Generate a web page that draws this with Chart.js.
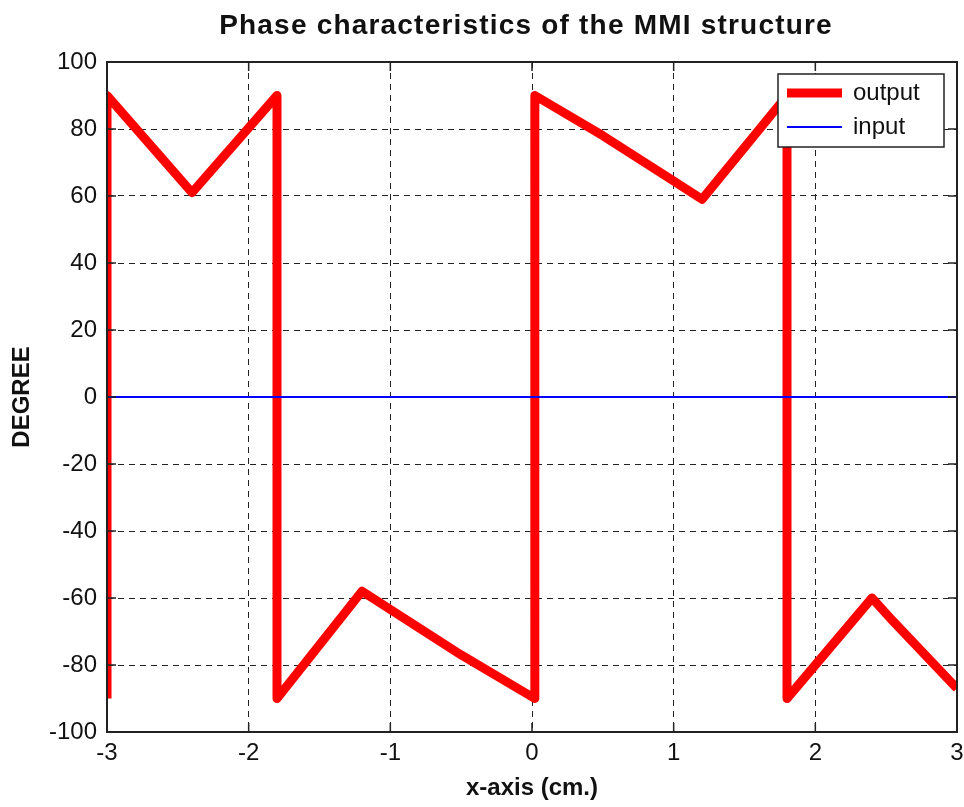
<!DOCTYPE html>
<html lang="en">
<head>
<meta charset="utf-8">
<title>Phase characteristics of the MMI structure</title>
<script src="https://cdn.jsdelivr.net/npm/chart.js@4.4.1/dist/chart.umd.min.js"></script>
<style>
  html, body { margin: 0; padding: 0; background: #fff; }
  canvas { display: block; }
</style>
</head>
<body>
<canvas id="phaseChart" width="964" height="807"></canvas>
<script>
// Output phase (degrees) along the MMI cross-section, jumps included
const outputX = [-3, -3, -2.4, -1.8, -1.8, -1.2, -0.5, 0.02, 0.02, 0.5, 1.0, 1.2, 1.8, 1.8, 2.4, 2.55, 3];
const outputY = [-90, 90, 61, 90, -90, -58, -77, -90, 90, 78, 64.5, 59, 90, -90, -60, -67, -87];

// Input phase stays flat
const inputX = [-3, 3];
const inputY = [0, 0];

const xTicks = [-3, -2, -1, 0, 1, 2, 3];
const yTicks = [-100, -80, -60, -40, -20, 0, 20, 40, 60, 80, 100];

const FONT = '"Liberation Sans", Arial, Helvetica, sans-serif';
const TEXT_COLOR = '#111';
const AXIS_COLOR = '#222';
const GRID_COLOR = '#222';
const TICK_LEN = 9;

const toPoints = (xs, ys) => xs.map((x, i) => ({ x, y: ys[i] }));

// Bold title centred over the plot box
const plotTitle = {
  id: 'plotTitle',
  afterDraw(chart) {
    const { ctx, chartArea: a } = chart;
    ctx.save();
    ctx.font = 'bold 28px ' + FONT;
    if ('letterSpacing' in ctx) ctx.letterSpacing = '1.2px';
    ctx.fillStyle = TEXT_COLOR;
    ctx.textAlign = 'center';
    ctx.textBaseline = 'alphabetic';
    ctx.fillText('Phase characteristics of the MMI structure', (a.left + a.right) / 2 - 6, 34);
    ctx.restore();
  }
};

// Closed axes box with inward tick marks on every side
const frameAndTicks = {
  id: 'frameAndTicks',
  afterDatasetsDraw(chart) {
    const { ctx, chartArea: a, scales: { x, y } } = chart;
    ctx.save();
    ctx.strokeStyle = AXIS_COLOR;
    ctx.lineWidth = 1.5;
    ctx.beginPath();
    x.ticks.forEach(t => {
      const px = x.getPixelForValue(t.value);
      ctx.moveTo(px, a.bottom); ctx.lineTo(px, a.bottom - TICK_LEN);
      ctx.moveTo(px, a.top); ctx.lineTo(px, a.top + TICK_LEN);
    });
    y.ticks.forEach(t => {
      const py = y.getPixelForValue(t.value);
      ctx.moveTo(a.left, py); ctx.lineTo(a.left + TICK_LEN, py);
      ctx.moveTo(a.right, py); ctx.lineTo(a.right - TICK_LEN, py);
    });
    ctx.stroke();
    ctx.lineWidth = 2;
    ctx.strokeRect(a.left, a.top, a.right - a.left, a.bottom - a.top);
    ctx.restore();
  }
};

// Boxed legend in the upper right corner of the plot
const boxLegend = {
  id: 'boxLegend',
  afterDraw(chart) {
    const { ctx, chartArea: a } = chart;
    const w = 166, h = 73;
    const left = a.right - 13 - w, top = a.top + 12;
    ctx.save();
    ctx.fillStyle = '#fff';
    ctx.fillRect(left, top, w, h);
    ctx.strokeStyle = AXIS_COLOR;
    ctx.lineWidth = 1.5;
    ctx.strokeRect(left, top, w, h);
    ctx.font = '24px ' + FONT;
    ctx.textBaseline = 'middle';
    chart.data.datasets.forEach((ds, i) => {
      const cy = top + 19 + i * 34;
      ctx.strokeStyle = ds.borderColor;
      ctx.lineWidth = ds.borderWidth;
      ctx.beginPath();
      ctx.moveTo(left + 9, cy);
      ctx.lineTo(left + 64, cy);
      ctx.stroke();
      ctx.fillStyle = TEXT_COLOR;
      ctx.fillText(ds.label, left + 75, cy);
    });
    ctx.restore();
  }
};

const tickFont = { family: FONT, size: 24 };
const titleFont = { family: FONT, size: 24, weight: 'bold' };

new Chart(document.getElementById('phaseChart'), {
  type: 'line',
  data: {
    datasets: [
      {
        label: 'output',
        data: toPoints(outputX, outputY),
        borderColor: '#ff0000',
        borderWidth: 9,
        borderJoinStyle: 'round',
        clip: 0,
        order: 1
      },
      {
        label: 'input',
        data: toPoints(inputX, inputY),
        borderColor: '#0000ff',
        borderWidth: 2,
        clip: 0,
        order: 0
      }
    ]
  },
  options: {
    responsive: false,
    animation: false,
    devicePixelRatio: 1,
    layout: { padding: { top: 62, right: 7, bottom: 0, left: 0 } },
    elements: { point: { radius: 0 }, line: { tension: 0 } },
    plugins: {
      legend: { display: false },
      title: { display: false },
      tooltip: { enabled: false }
    },
    scales: {
      x: {
        type: 'linear',
        min: -3,
        max: 3,
        afterBuildTicks: s => { s.ticks = xTicks.map(value => ({ value })); },
        // fixed axis height; the end labels may hang past the box
        afterFit: s => { s.height = 75; s.paddingLeft = 0; s.paddingRight = 0; },
        grid: { color: GRID_COLOR, lineWidth: 1, drawTicks: false },
        border: { display: false, dash: [6, 5] },
        ticks: { padding: 7, color: TEXT_COLOR, font: tickFont, maxRotation: 0, autoSkip: false },
        title: { display: true, text: 'x-axis (cm.)', color: TEXT_COLOR, font: titleFont, padding: { top: 4, bottom: 4 } }
      },
      y: {
        type: 'linear',
        min: -100,
        max: 100,
        afterBuildTicks: s => { s.ticks = yTicks.map(value => ({ value })); },
        afterFit: s => { s.width = 107; },
        grid: { color: GRID_COLOR, lineWidth: 1, drawTicks: false },
        border: { display: false, dash: [6, 5] },
        ticks: { padding: 10, color: TEXT_COLOR, font: tickFont, autoSkip: false },
        title: { display: true, text: 'DEGREE', color: TEXT_COLOR, font: titleFont, padding: { top: 8, bottom: 8 } }
      }
    }
  },
  plugins: [frameAndTicks, boxLegend, plotTitle]
});
</script>
</body>
</html>
